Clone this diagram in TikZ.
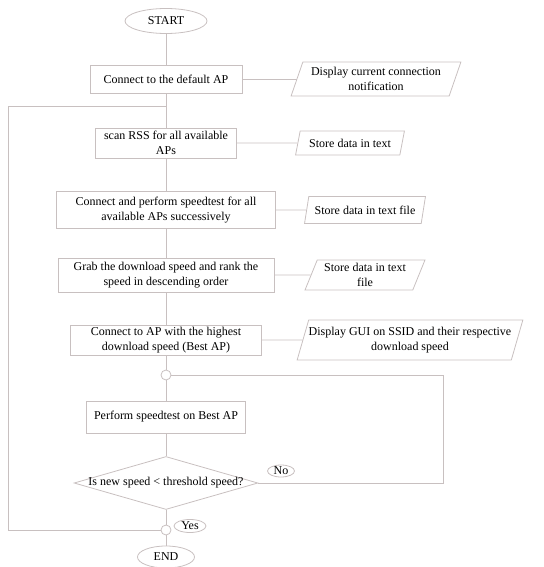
\documentclass[tikz,border=0pt]{standalone}
\usepackage{fontspec}
\setmainfont{Liberation Serif}
\usetikzlibrary{shapes.geometric}
\definecolor{linegray}{RGB}{200,192,192}

\begin{document}
\begin{tikzpicture}[x=1pt,y=-1pt,
every node/.style={font=\fontsize{12}{15}\selectfont,align=center},
line/.style={draw=linegray,line width=0.8pt},
process/.style={draw=linegray,line width=0.8pt,rectangle,inner sep=0pt},
io/.style={draw=linegray,line width=0.8pt,trapezium,trapezium left angle=66,
  trapezium right angle=114,trapezium stretches=true,inner sep=0pt},
term/.style={draw=linegray,line width=0.8pt,ellipse,inner sep=0pt},
junc/.style={draw=linegray,line width=0.8pt,circle,minimum size=10pt,inner sep=0pt},
decision/.style={draw=linegray,line width=0.8pt,diamond,aspect=3.47,inner sep=-1pt}]

\useasboundingbox (0,0) rectangle (543,567);

\node[term,minimum width=82,minimum height=25] (start) at (166,21) {START};
\node[process,minimum width=152,minimum height=28] (connect) at (166,79)
{Connect to the default AP};
\node[io,minimum width=170,minimum height=34] (notify) at (376,79)
{Display current connection\\notification};
\coordinate (merge) at (166,106);
\node[process,minimum width=141,minimum height=30] (scan) at (166,143)
{scan RSS for all available\\APs};
\node[io,minimum width=109,minimum height=24] (store1) at (350,143)
{Store data in text};
\node[process,minimum width=219,minimum height=37] (speedtest) at (166,210)
{Connect and perform speedtest for all\\available APs successively};
\node[io,minimum width=121,minimum height=27] (store2) at (365,210)
{Store data in text file};
\node[process,minimum width=216,minimum height=34] (rank) at (166,275)
{Grab the download speed and rank the\\speed in descending order};
\node[io,minimum width=120,minimum height=30] (store3) at (365,275)
{Store data in text\\file};
\node[process,minimum width=191,minimum height=30] (best) at (166,340)
{Connect to AP with the highest\\download speed (Best AP)};
\node[io,minimum width=226,minimum height=40] (gui) at (410,340)
{Display GUI on SSID and their respective\\download speed};
\node[junc] (top) at (166,375) {};
\node[process,minimum width=159,minimum height=32] (retest) at (166,417)
{Perform speedtest on Best AP};
\node[decision] (check) at (166,483) {Is new speed < threshold speed?};
\node[term,minimum width=27,minimum height=12] (no) at (281,471) {No};
\node[junc] (bottom) at (166,530) {};
\node[term,minimum width=32,minimum height=13] (yes) at (190,526) {Yes};
\node[term,minimum width=57,minimum height=22] (end) at (166,557) {END};
\coordinate (leftrail) at (8,0);
\coordinate (rightrail) at (443,0);

\draw[line] (start) -- (connect) -- (scan) -- (speedtest) -- (rank) -- (best)
-- (top) -- (retest) -- (check) -- (bottom) -- (end);
\draw[line] (connect) -- (notify);
\draw[line] (scan) -- (store1);
\draw[line] (speedtest) -- (store2);
\draw[line] (rank) -- (store3);
\draw[line] (best) -- (gui);
\draw[line] (check) -| (rightrail |- top) -- (top);
\draw[line] (bottom) -| (leftrail |- merge) -- (merge);

\end{tikzpicture}
\end{document}
